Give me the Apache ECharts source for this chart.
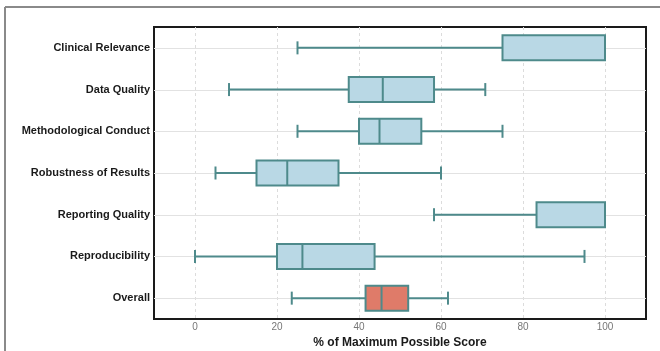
<!DOCTYPE html>
<html>
<head>
<meta charset="utf-8">
<script src="https://cdn.jsdelivr.net/npm/echarts@6/dist/echarts.min.js"></script>
<style>html,body{margin:0;padding:0;background:#fff;}#c{width:660px;height:351px;}</style>
</head>
<body>
<div id="c"></div>
<script>
const categories = ['Clinical Relevance','Data Quality','Methodological Conduct','Robustness of Results','Reporting Quality','Reproducibility','Overall'];
const whiskerLow  = [25, 8.3, 25, 5, 58.3, 0, 23.6];
const q1          = [75, 37.5, 40, 15, 83.3, 20, 41.6];
const median      = [100, 45.8, 45, 22.5, 100, 26.2, 45.5];
const q3          = [100, 58.3, 55.2, 35, 100, 43.8, 52];
const whiskerHigh = [100, 70.8, 75, 60, 100, 95, 61.7];
const xTicks = [0, 20, 40, 60, 80, 100];
const xName = '% of Maximum Possible Score';

const STROKE = '#4e8a8b';
const FILL = '#b9d8e5';
const FILL_OVERALL = '#df7b69';

const chart = echarts.init(document.getElementById('c'), null, {renderer: 'canvas'});
const boxData = categories.map((c, i) => [i, whiskerLow[i], q1[i], median[i], q3[i], whiskerHigh[i]]);
// grid line items: [kind, value]; kind 0 = vertical at x value, 1 = horizontal at category index
const gridData = xTicks.map(v => [0, v]).concat(categories.map((c, i) => [1, i]));

function renderGrid(params, api) {
  const cs = params.coordSys;
  const kind = api.value(0);
  const v = api.value(1);
  if (kind === 0) {
    const x = Math.round(api.coord([v, 0])[0]) + 0.5;
    return {type: 'line', shape: {x1: x, y1: cs.y, x2: x, y2: cs.y + cs.height},
      style: {stroke: '#dcdcdc', lineWidth: 1, lineDash: [3, 3]}};
  }
  const y = Math.round(api.coord([0, v])[1]) + 0.5;
  return {type: 'line', shape: {x1: cs.x, y1: y, x2: cs.x + cs.width, y2: y},
    style: {stroke: '#e2e2e2', lineWidth: 1}};
}

function renderBox(params, api) {
  const ci = api.value(0);
  const pLo = api.coord([api.value(1), ci]);
  const pQ1 = api.coord([api.value(2), ci]);
  const pMed = api.coord([api.value(3), ci]);
  const pQ3 = api.coord([api.value(4), ci]);
  const pHi = api.coord([api.value(5), ci]);
  const band = api.size([0, 1])[1];
  const bh = band * 0.6;
  const ch = bh * 0.52;
  const y = pQ1[1];
  const fill = categories[ci] === 'Overall' ? FILL_OVERALL : FILL;
  const ls = {stroke: STROKE, lineWidth: 2};
  return {
    type: 'group',
    children: [
      {type: 'line', shape: {x1: pLo[0], y1: y, x2: pQ1[0], y2: y}, style: ls},
      {type: 'line', shape: {x1: pQ3[0], y1: y, x2: pHi[0], y2: y}, style: ls},
      {type: 'line', shape: {x1: pLo[0], y1: y - ch / 2, x2: pLo[0], y2: y + ch / 2}, style: ls},
      {type: 'line', shape: {x1: pHi[0], y1: y - ch / 2, x2: pHi[0], y2: y + ch / 2}, style: ls},
      {type: 'rect', shape: {x: pQ1[0], y: y - bh / 2, width: pQ3[0] - pQ1[0], height: bh}, style: {fill: fill, stroke: STROKE, lineWidth: 2}},
      {type: 'line', shape: {x1: pMed[0], y1: y - bh / 2, x2: pMed[0], y2: y + bh / 2}, style: ls}
    ]
  };
}

chart.setOption({
  animation: false,
  backgroundColor: '#fff',
  graphic: [
    {type: 'line', shape: {x1: 5, y1: 7, x2: 660, y2: 7}, style: {stroke: '#8a8a8a', lineWidth: 2}},
    {type: 'line', shape: {x1: 5, y1: 7, x2: 5, y2: 351}, style: {stroke: '#8a8a8a', lineWidth: 2}}
  ],
  grid: {left: 154, top: 27, right: 14, bottom: 32, outerBoundsMode: 'none', containLabel: false,
    show: true, borderColor: '#1a1a1a', borderWidth: 2, backgroundColor: 'transparent'},
  xAxis: {
    type: 'value', min: -10, max: 110,
    name: xName, nameLocation: 'middle', nameGap: 16,
    nameTextStyle: {fontFamily: 'Liberation Sans', fontWeight: 'bold', fontSize: 12, color: '#1a1a1a'},
    axisLine: {show: false}, axisTick: {show: false},
    splitLine: {show: false},
    axisLabel: {customValues: xTicks, fontFamily: 'Liberation Sans', fontSize: 10, color: '#777', margin: 3}
  },
  yAxis: {
    type: 'category', data: categories, inverse: true,
    axisLine: {show: false}, axisTick: {show: false}, splitLine: {show: false},
    axisLabel: {fontFamily: 'Liberation Sans', fontWeight: 'bold', fontSize: 11, color: '#1a1a1a', margin: 4}
  },
  series: [
    {
      type: 'custom', z: 1, silent: true, renderItem: renderGrid, data: gridData,
      encode: {x: 1, y: 1}
    },
    {
      type: 'custom', z: 3, renderItem: renderBox, data: boxData,
      encode: {x: [1, 2, 3, 4, 5], y: 0}
    }
  ]
});
</script>
</body>
</html>
